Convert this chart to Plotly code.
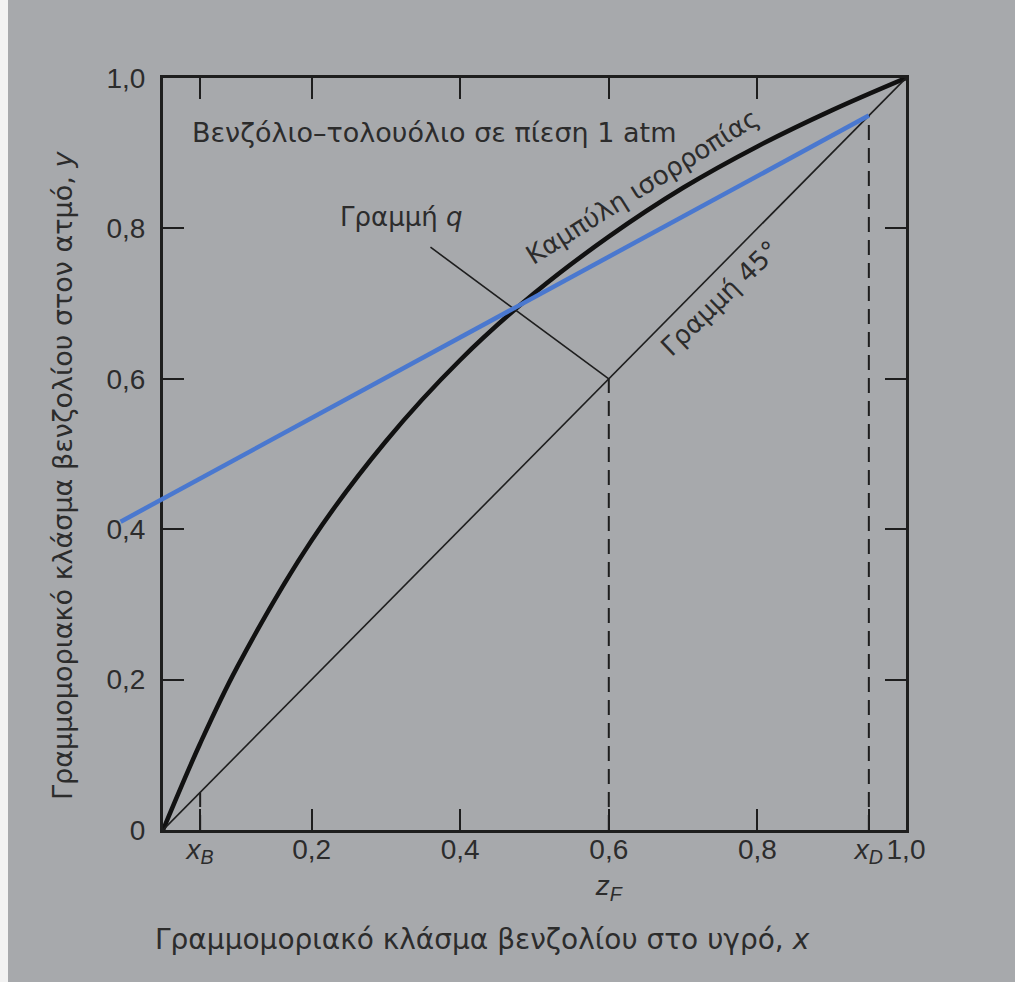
import plotly.graph_objects as go

# Benzene-toluene vapour-liquid equilibrium at 1 atm (mole fraction benzene)
eq_x = [0.0, 0.05, 0.1, 0.2, 0.3, 0.4, 0.5, 0.6, 0.7, 0.8, 0.9, 1.0]
eq_y = [0.0, 0.115, 0.217, 0.385, 0.517, 0.625, 0.714, 0.789, 0.854, 0.909, 0.957, 1.0]

# Characteristic compositions
x_B = 0.05
z_F = 0.6
x_D = 0.95

# q-line: from the feed point on the diagonal up to its labelled end
q_x = [z_F, 0.36]
q_y = [z_F, 0.775]

# Straight line through (x_D, x_D) and the q-line / equilibrium intersection
op_x = [-0.057, x_D]
op_y = [0.41, x_D]

# Axis tick labels
x_tickvals = [x_B, 0.2, 0.4, z_F, 0.8, x_D, 1.0]
x_ticktext = ["<i>x<sub>B</sub></i>", "0,2", "0,4", "0,6<br><i>z<sub>F</sub></i>",
              "0,8", "<i>x<sub>D</sub></i>", "1,0"]
y_tickvals = [0, 0.2, 0.4, 0.6, 0.8, 1.0]
y_ticktext = ["0", "0,2", "0,4", "0,6", "0,8", "1,0"]
frame_ticks = [0.2, 0.4, 0.6, 0.8]

INK = "#1e1e1e"
TEXT = "#2c2c2c"
PAPER = "#a7a9ac"
BLUE = "#4a78cf"
CLEAR = "rgba(0,0,0,0)"

W, H = 1015, 982
L, R, T, B = 100, 109, 78, 152
plot_w = W - L - R            # 806
frame_px = 743                # width of the unit square in pixels
x_dom0 = (plot_w - frame_px) / plot_w
x2_left = -(plot_w - frame_px) / frame_px

fig = go.Figure()

# 45° line
fig.add_trace(go.Scatter(x=[0, 1], y=[0, 1], mode="lines", xaxis="x3", yaxis="y",
                         line=dict(color=INK, width=1.6), hoverinfo="skip"))
# equilibrium curve
fig.add_trace(go.Scatter(x=eq_x, y=eq_y, mode="lines", line_shape="spline",
                         line=dict(color="#111111", width=4.5), hoverinfo="skip"))
# q-line
fig.add_trace(go.Scatter(x=q_x, y=q_y, mode="lines",
                         line=dict(color=INK, width=1.6), hoverinfo="skip"))
# dashed verticals at x_B, z_F, x_D
for xv in (x_B, z_F, x_D):
    fig.add_trace(go.Scatter(x=[xv, xv], y=[0, xv], mode="lines",
                             line=dict(color=INK, width=2, dash="15px,8px"),
                             hoverinfo="skip"))
# blue straight line (own axes so it may run past the left frame)
fig.add_trace(go.Scatter(x=op_x, y=op_y, mode="lines", xaxis="x2", yaxis="y2",
                         line=dict(color=BLUE, width=4.5), hoverinfo="skip"))

tick_font = dict(family="Liberation Sans, Arial, sans-serif", size=28, color=TEXT)
label_font = dict(family="DejaVu Sans, sans-serif", size=26, color=TEXT)

fig.update_layout(
    width=W, height=H,
    margin=dict(l=L, r=R, t=T, b=B),
    paper_bgcolor=PAPER, plot_bgcolor=CLEAR,
    showlegend=False,
    xaxis=dict(domain=[x_dom0, 1], range=[0, 1], showgrid=False, zeroline=False,
               showline=True, linecolor=INK, linewidth=3,
               tickmode="array", tickvals=x_tickvals, ticktext=x_ticktext,
               ticks="", tickfont=tick_font, ticklabelstandoff=-8,
               minor=dict(tickmode="array", tickvals=[x_B, 0.2, 0.4, z_F, 0.8, x_D],
                          ticks="inside", ticklen=21, tickwidth=2, tickcolor=INK),
               fixedrange=True),
    xaxis3=dict(overlaying="x", side="top", anchor="y", range=[0, 1],
                showgrid=False, zeroline=False, showline=True, linecolor=INK, linewidth=3,
                tickmode="array", tickvals=[x_B] + frame_ticks, ticks="inside",
                ticklen=21, tickwidth=2, tickcolor=INK, showticklabels=False),
    yaxis=dict(domain=[0, 1], range=[0, 1], showgrid=False, zeroline=False,
               showline=True, linecolor=INK, linewidth=3, mirror="ticks",
               tickmode="array", tickvals=y_tickvals, ticktext=y_ticktext,
               ticks="inside", ticklen=21, tickwidth=2, tickcolor=INK,
               tickfont=tick_font, ticklabelstandoff=9),
    xaxis2=dict(domain=[0, 1], range=[x2_left, 1], visible=False, anchor="y2"),
    yaxis2=dict(domain=[0, 1], range=[0, 1], visible=False, anchor="x2"),
)

def px_x(p):
    return (p - L) / plot_w

def px_y(p):
    return (H - B - p) / (H - T - B)

annotations = [
    dict(text="Βενζόλιο–τολουόλιο σε πίεση 1 atm", x=0.036, y=0.928, xref="x", yref="y",
         xanchor="left", yanchor="middle", showarrow=False,
         font=dict(label_font, size=27)),
    dict(text="Γραμμή <i>q</i>", x=0.32, y=0.815, xref="x", yref="y",
         xanchor="center", yanchor="middle", showarrow=False, font=label_font),
    dict(text="Καμπύλη ισορροπίας", x=0.646, y=0.856, xref="x", yref="y",
         xanchor="center", yanchor="middle", textangle=-32, showarrow=False,
         font=label_font),
    dict(text="Γραμμή 45°", x=0.75, y=0.707, xref="x", yref="y",
         xanchor="center", yanchor="middle", textangle=-44, showarrow=False,
         font=label_font),
    dict(text="Γραμμομοριακό κλάσμα βενζολίου στο υγρό, <i>x</i>",
         x=px_x(482), y=px_y(940), xref="paper", yref="paper",
         xanchor="center", yanchor="middle", showarrow=False,
         font=dict(label_font, size=28)),
    dict(text="Γραμμομοριακό κλάσμα βενζολίου στον ατμό, <i>y</i>",
         x=px_x(62), y=px_y(476), xref="paper", yref="paper", textangle=-90,
         xanchor="center", yanchor="middle", showarrow=False,
         font=dict(label_font, size=27)),
]
fig.update_layout(annotations=annotations)

# light strip along the left edge of the sheet
fig.add_shape(type="rect", xref="paper", yref="paper",
              x0=px_x(0), x1=px_x(8), y0=px_y(H), y1=px_y(0),
              fillcolor="#f2f2f2", line_width=0, layer="below")

fig.write_html("out.html")
